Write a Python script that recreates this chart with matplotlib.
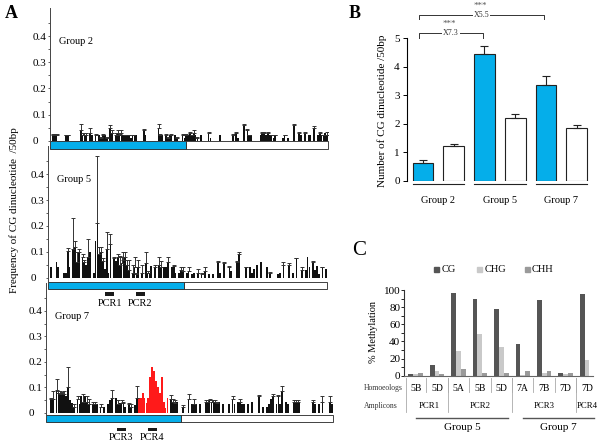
import numpy as np
import matplotlib
matplotlib.use("Agg")
import matplotlib.pyplot as plt
from matplotlib.patches import Rectangle

plt.rcParams["font.family"] = ["Liberation Serif", "DejaVu Serif"]

BLUE = "#05aeea"

# ---- panel A: CG frequency per 50 bp window (values and errors in 1/100) ----
a_groups = ["Group 2", "Group 5", "Group 7"]
a_blue_end = [72.9, 72.6, 70.0]   # end of the blue region, in windows

g2_bins = [1, 2, 3, 8, 9, 16, 17, 18, 19, 21, 22, 24, 26, 27, 28, 29, 30, 32, 33,
           35, 36, 37, 38, 39, 40, 41, 42, 43, 44, 45, 46, 50, 51, 58, 59, 60,
           62, 63, 64, 65, 67, 68, 71, 72, 73, 74, 75, 76, 77, 78, 79, 81, 85, 86,
           91, 98, 100, 101, 104, 106, 107, 108, 113, 114, 115, 116, 117, 118,
           119, 120, 121, 125, 126, 128, 131, 134, 135, 137, 139, 140, 142, 144,
           145, 146, 147, 148, 149]
g2_vals = [2, 2, 2, 2, 2, 4, 2, 2, 2, 3, 2, 2, 2, 1, 2, 2, 1, 5, 3,
           2, 3, 2, 3, 2, 2, 2, 2, 1, 2, 2, 2, 4, 2, 5, 2, 2,
           2, 1, 2, 2, 2, 1, 2, 1, 2, 2, 3, 2, 3, 2, 1, 2, 3, 1,
           2, 2, 3, 1, 6, 4, 2, 2, 2, 3, 3, 2, 3, 2,
           2, 1, 2, 1, 2, 1, 6, 3, 2, 3, 2, 2, 5, 2,
           3, 2, 2, 3, 2]
g2_errs = [0.5, 0.5, 0.5, 0.3, 0.3, 2.5, 1, 1, 1, 2, 0, 0.5, 0, 0.5, 0.5, 0, 0.5, 1, 1,
           1, 1, 0.5, 1, 0, 0.3, 0, 0.3, 0, 0.3, 0, 0, 0.5, 0, 1.5, 0.5, 0,
           0.5, 0.3, 0, 0.5, 0, 0.3, 0.5, 0, 0.5, 0, 0.5, 0.3, 1, 0, 0.5, 0, 0.5, 0,
           0, 0.5, 0.5, 0, 0.5, 0.5, 0.3, 0, 0, 0.5, 0.3, 0, 0.5, 0,
           0.3, 0, 0.3, 0, 0.3, 0, 0.5, 0.5, 0, 0.5, 0, 0, 0.5, 0,
           0.5, 0, 0.3, 0, 1.5]

g5_bins = [1, 4, 5, 8, 9, 10, 11, 13, 14, 15, 16, 18, 19, 20, 21, 22,
           24, 25, 26, 27, 28, 29, 30, 31, 32, 33, 35, 36, 37, 38, 39, 40, 41, 42, 43,
           45, 46, 47, 48, 50, 52, 53, 54, 55, 57, 59, 60, 62, 63, 64, 66, 67, 68,
           70, 71, 72, 74, 75, 77, 78, 80, 82, 84, 86, 88, 91, 92, 94, 97, 98,
           101, 102, 106, 108, 109, 110, 112, 114, 117, 119, 123, 124, 126, 129,
           131, 133, 136, 138, 139, 140, 142, 143, 144, 145, 147, 149]
g5_vals = [4, 6, 4, 2, 2, 10.5, 4, 11, 12, 6, 10, 8, 6, 5, 8, 10,
           2, 14, 21, 9, 10, 6.5, 3.5, 11, 2, 13, 7.5, 6.5, 8, 5, 5.5, 7, 8, 5, 3,
           2, 4, 1.5, 4, 2, 5.5, 2, 2, 4.5, 4, 5, 4, 4, 4, 6, 4, 4.5, 2,
           2, 3, 2.5, 2, 2.5, 1.5, 2, 2, 1.5, 2.5, 1.5, 1.5, 6, 2, 5.5, 4, 2.5,
           6, 9, 4, 4, 2, 3.5, 5, 6, 4, 2, 1.5, 2, 5, 5,
           2, 7.5, 3, 3, 8, 4, 6, 3, 4.5, 1.5, 4, 3.5]
g5_errs = [0, 0, 0, 0, 0, 1, 0, 12, 2, 4, 1, 1, 1, 0, 7, 0,
           0, 0, 26, 3, 2, 1, 0, 6.5, 0, 4, 0.5, 0, 1, 3.5, 2.5, 3, 2, 2, 4,
           3, 4, 0.5, 3, 3, 4.5, 0.5, 0, 0, 1, 3, 2.5, 0, 0, 2, 0, 0.5, 0,
           0, 1, 1.5, 0, 1.5, 0, 0, 1.5, 0.5, 1.5, 0, 0, 0.5, 0, 0.5, 0.5, 0,
           0.5, 1, 0.3, 0, 0, 0, 0, 0, 0, 0.3, 0, 0, 1, 0.5,
           0, 0.3, 1, 0, 0, 0, 0.5, 0, 0, 0, 0.3, 0]

g7_bins = [2, 3, 5, 6, 7, 8, 9, 10, 11, 12, 13, 14, 16, 17, 18, 19, 20, 21, 22,
           24, 25, 26, 28, 30, 32, 33, 34, 36, 37, 38, 39, 40, 41, 43, 44, 46, 47,
           65, 66, 67, 68, 71, 74, 76, 77, 78, 80, 83, 84, 85, 86, 87, 88, 89, 90,
           92, 95, 97, 98, 100, 101, 102, 103, 105, 107, 111, 113, 115, 116, 117,
           118, 120, 121, 122, 123, 125, 126, 129, 130, 131, 132, 139, 140, 142,
           144, 148, 149]
g7_vals = [5.5, 5.5, 9, 8, 7.5, 8, 7.5, 6.5, 10, 5, 4, 2.5, 5.5, 3.5, 6.5, 4.5, 6.5, 4.5, 3.5,
           3.5, 3.5, 3.5, 2.5, 2.5, 3.5, 5, 6, 6, 3.5, 4, 4, 4, 2.5, 3.5, 2.5, 3, 6,
           5.5, 4.5, 4, 4.5, 2.5, 5.5, 3.5, 3.5, 3.5, 3.5, 4.5, 4.5, 5, 4.5, 4.5, 4.5, 4, 4.5,
           3.5, 3.5, 5.5, 3.5, 4.5, 4.5, 3.5, 3.5, 3.5, 4.5, 6.5, 2.5, 2.5, 3.5, 5.5,
           6.5, 3.5, 6.5, 3.5, 8.5, 4.5, 3.5, 4.5, 4.5, 4.5, 4.5, 4.5, 3.5, 3.5,
           4.5, 4.5, 3.5]
g7_errs = [0.5, 3.3, 4.5, 0.5, 1, 0.3, 1, 0, 8, 0, 0, 1, 1, 0, 0, 3, 0, 2, 2,
           1, 1, 0, 1, 0, 0, 0, 3, 0, 1.5, 0, 1, 0.5, 0, 0.5, 1, 0, 4.5,
           1.5, 1, 1, 0, 0.5, 2, 0, 2, 0, 0, 0.5, 0.5, 0.5, 0.5, 0.5, 0.5, 0.5, 0,
           0, 0, 1, 0, 0, 1, 0, 0, 0, 0, 0.5, 0, 0, 0, 0,
           1, 0, 0.5, 0, 2, 0, 0, 0.5, 0.5, 0.5, 0, 0.5, 0, 0,
           2, 2, 0]
# highlighted (red) windows of Group 7
g7_red_bins = list(range(48, 64))
g7_red_vals = [6, 6, 8, 6, 4, 6, 14, 18, 16.5, 12.5, 10, 8, 14, 4.5, 2, 6]

a_bins = [g2_bins, g5_bins, g7_bins]
a_vals = [g2_vals, g5_vals, g7_vals]
a_errs = [g2_errs, g5_errs, g7_errs]

pcr_names = ["PCR1", "PCR2", "PCR3", "PCR4"]
pcr_group = [1, 1, 2, 2]
pcr_start = [30.1, 46.6, 36.4, 52.6]
pcr_end = [35.1, 51.6, 41.3, 57.7]

# ---- panel B: mean CG per 50 bp ----
b_groups = ["Group 2", "Group 5", "Group 7"]
b_blue = [0.64, 4.45, 3.38]
b_blue_err = [0.08, 0.28, 0.30]
b_white = [1.23, 2.21, 1.85]
b_white_err = [0.07, 0.14, 0.10]
b_fold = ["X7.3", "X5.5"]          # Group 2 vs Group 5, Group 2 vs Group 7
b_fold_to = [1, 2]

# ---- panel C: % methylation ----
c_homoeologs = ["5B", "5D", "5A", "5B", "5D", "7A", "7B", "7D", "7D"]
c_cg = [2, 13, 96, 90, 78, 37, 88, 3, 95]
c_chg = [2, 5, 29, 49, 34, 0.5, 3.5, 2, 18]
c_chh = [3, 1.5, 8, 3.5, 3.5, 5, 5.5, 3, 0]
c_amp_names = ["PCR1", "PCR2", "PCR3", "PCR4"]
c_amp_first = [0, 2, 5, 8]
c_amp_last = [1, 4, 7, 8]
c_group_names = ["Group 5", "Group 7"]
c_group_first = [0, 5]
c_group_last = [4, 8]
c_series = ["CG", "CHG", "CHH"]
c_colors = ["#555555", "#c9c9c9", "#9a9a9a"]


def box(x0, y0, x1, y1):
    # pixel box (top-left origin) -> figure fraction rect
    return [x0 / 600, 1 - y1 / 445, (x1 - x0) / 600, (y1 - y0) / 445]


fig = plt.figure(figsize=(6, 4.45), dpi=100)

# ---------------- panel A ----------------
a_boxes = [box(50.1, 7.6, 328.1, 145.9), box(48.1, 145.6, 327.1, 282.9),
           box(46.0, 282.9, 333.0, 418.1)]
a_rect_y = [(-0.030, -0.003), (-0.043, -0.015), (-0.036, -0.008)]

for k in range(3):
    ax = fig.add_axes(a_boxes[k])
    ax.patch.set_visible(False)
    bins = np.array(a_bins[k], dtype=float)
    vals = np.array(a_vals[k]) / 100
    errs = np.array(a_errs[k]) / 100
    assert len(bins) == len(vals) == len(errs), k
    ax.bar(bins, vals, width=0.95, color="#111111", linewidth=0)
    m = errs > 0
    ax.errorbar(bins[m], vals[m], yerr=[np.zeros(m.sum()), errs[m]], fmt="none",
                ecolor="#333333", elinewidth=0.7, capsize=1.1, capthick=0.7)
    if k == 2:
        ax.bar(g7_red_bins, np.array(g7_red_vals) / 100, width=0.95,
               color="#ff1a1a", linewidth=0)
    y0, y1 = a_rect_y[k]
    ax.add_patch(Rectangle((-0.5, y0), a_blue_end[k] + 0.5, y1 - y0, fc=BLUE,
                           ec="#222222", lw=0.6, clip_on=False))
    ax.add_patch(Rectangle((a_blue_end[k], y0), 149.5 - a_blue_end[k], y1 - y0,
                           fc="white", ec="#222222", lw=0.6, clip_on=False))
    for name, g, s, e in zip(pcr_names, pcr_group, pcr_start, pcr_end):
        if g != k:
            continue
        ax.add_patch(Rectangle((s, -0.069), e - s, 0.012, fc="#1a1a1a",
                               ec="none", clip_on=False))
        ax.text((s + e) / 2, -0.098, name, ha="center", va="center", fontsize=7.5)
    ax.text(0.032, 0.38, a_groups[k], transform=ax.get_yaxis_transform(),
            ha="left", va="center", fontsize=7.5)
    ax.set_xlim(-0.5, 149.5)
    ax.set_ylim(-0.02, 0.51)
    for s in ["top", "right", "bottom"]:
        ax.spines[s].set_visible(False)
    ax.spines["left"].set_linewidth(0.7)
    ax.spines["left"].set_color("#444444")
    ax.set_xticks([])
    ax.set_yticks([0, 0.1, 0.2, 0.3, 0.4])
    ax.set_yticklabels(["0", "0.1", "0.2", "0.3", "0.4"])
    ax.set_yticks([0.05, 0.15, 0.25, 0.35, 0.45], minor=True)
    ax.tick_params(axis="y", which="both", direction="out", length=1.5,
                   width=0.6, color="#444444", labelsize=8, pad=11)
    for lbl in ax.get_yticklabels():
        lbl.set_horizontalalignment("left")

fig.text(14 / 600, 1 - 210 / 445, "Frequency of CG dinucleotide  /50bp",
         rotation=90, ha="center", va="center", fontsize=8)
fig.text(11 / 600, 1 - 14 / 445, "A", ha="center", va="center",
         fontsize=13, fontweight="bold")

# ---------------- panel B ----------------
axb = fig.add_axes(box(406.7, 38.3, 595.2, 181))
xb = np.arange(len(b_groups)) * 2
axb.bar(xb, b_blue, 0.67, color=BLUE, edgecolor="#222222", linewidth=0.8)
axb.bar(xb + 1, b_white, 0.67, color="white", edgecolor="#222222", linewidth=0.8)
axb.errorbar(xb, b_blue, yerr=[np.zeros(3), b_blue_err], fmt="none",
             ecolor="#222222", elinewidth=0.8, capsize=3.2, capthick=0.8)
axb.errorbar(xb + 1, b_white, yerr=[np.zeros(3), b_white_err], fmt="none",
             ecolor="#222222", elinewidth=0.8, capsize=3.2, capthick=0.8)
for i, g in enumerate(b_groups):
    axb.plot([xb[i] - 0.335, xb[i] + 1.335], [-0.1, -0.1], color="#222222",
             lw=0.8, clip_on=False)
    axb.text(xb[i] + 0.5, -0.67, g, ha="center", va="center", fontsize=7.5)

for j, (fold, to) in enumerate(zip(b_fold, b_fold_to)):
    yb = [5.17, 5.81][j]
    xl, xr = xb[0] - 0.13, xb[to] - 0.05
    axb.plot([xl, xl, xr, xr], [yb - 0.15, yb, yb, yb - 0.15], color="#333333",
             lw=0.7, clip_on=False)
    axb.text((xl + xr) / 2, yb, fold, ha="center", va="center", fontsize=5.8,
             color="#333333",
             bbox=dict(fc="white", ec="none", pad=0.6))
    axb.text((xl + xr) / 2 - 0.05, yb + 0.33, "***", ha="center", va="center",
             fontsize=6.5, color="#555555")

axb.set_xlim(-0.53, 5.6)
axb.set_ylim(0, 5)
for s in ["top", "right", "bottom"]:
    axb.spines[s].set_visible(False)
axb.spines["left"].set_linewidth(0.8)
axb.set_xticks([])
axb.set_yticks(range(6))
axb.tick_params(axis="y", direction="out", length=3, width=0.7, labelsize=8, pad=2)
fig.text(381.7 / 600, 1 - 110.7 / 445, "Number of CG dinucleotide /50bp",
         rotation=90, ha="center", va="center", fontsize=8)
fig.text(355 / 600, 1 - 13 / 445, "B", ha="center", va="center",
         fontsize=13, fontweight="bold")

# ---------------- panel C ----------------
axc = fig.add_axes(box(404.3, 290, 593, 375.7))
xc = np.arange(len(c_homoeologs))
for off, vals, col in zip([-0.225, 0, 0.225], [c_cg, c_chg, c_chh], c_colors):
    axc.bar(xc + off, vals, 0.225, color=col, linewidth=0)
axc.set_xlim(-0.53, 8.28)
axc.set_ylim(0, 100)
for s in ["top", "right"]:
    axc.spines[s].set_visible(False)
axc.spines["left"].set_linewidth(0.8)
axc.spines["left"].set_color("#333333")
axc.spines["bottom"].set_linewidth(0.8)
axc.spines["bottom"].set_color("#666666")
axc.set_xticks([])
axc.set_yticks(range(0, 101, 20))
axc.set_yticks(range(10, 100, 20), minor=True)
axc.tick_params(axis="y", which="both", direction="out", length=2, width=0.6,
                labelsize=8, pad=1)

# table below panel C
for i, h in enumerate(c_homoeologs):
    axc.text(i, -14.7, h, ha="center", va="center", fontsize=7)
for i in range(len(c_homoeologs) - 1):
    axc.plot([i + 0.5, i + 0.5], [-3, -18.7], color="#aaaaaa", lw=0.6,
             clip_on=False)
axc.plot([-0.47, -0.47], [-3, -42], color="#aaaaaa", lw=0.6, clip_on=False)
for name, a, b in zip(c_amp_names, c_amp_first, c_amp_last):
    axc.text((a + b) / 2 + (0.15 if a == 0 else 0), -35, name, ha="center",
             va="center", fontsize=6.3)
    if b < len(c_homoeologs) - 1:
        axc.plot([b + 0.5, b + 0.5], [-3, -42], color="#aaaaaa", lw=0.6,
                 clip_on=False)
for name, a, b in zip(c_group_names, c_group_first, c_group_last):
    axc.plot([a, b + 0.32], [-49.7, -49.7], color="#555555", lw=1.0,
             clip_on=False)
    axc.text((a + b + 0.32) / 2, -61, name, ha="center", va="center", fontsize=8)

# legend
for xpos, name, col in zip([0.94, 2.95, 5.18], c_series, c_colors):
    axc.plot([xpos], [124.5], marker="s", ms=3.6, color=col, clip_on=False)
    axc.text(xpos + 0.25, 124.5, name, ha="left", va="center", fontsize=7.5)

fig.text(373 / 600, 1 - 331.7 / 445, "% Methylation", rotation=90,
         ha="center", va="center", fontsize=7.5)
fig.text(364 / 600, 1 - 388.3 / 445, "Homoeologs", ha="left", va="center",
         fontsize=5.5, color="#333333")
fig.text(364 / 600, 1 - 405.7 / 445, "Amplicons", ha="left", va="center",
         fontsize=5.5, color="#333333")
fig.text(359 / 600, 1 - 250 / 445, "C", ha="center", va="center", fontsize=15)

fig.savefig("out.png", dpi=100)
